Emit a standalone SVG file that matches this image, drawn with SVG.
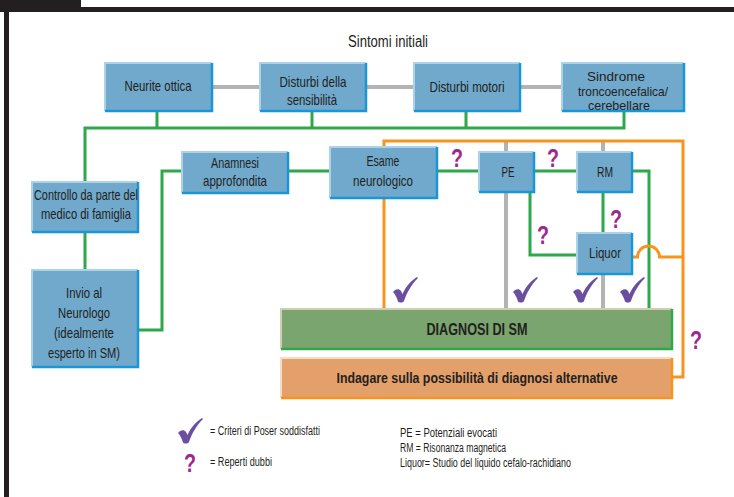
<svg xmlns="http://www.w3.org/2000/svg" width="734" height="497" viewBox="0 0 734 497">
<style>
text{font-family:"Liberation Sans Narrow","Liberation Sans",Arial,sans-serif;fill:#231f20;text-anchor:middle}
.t{font-size:15px}
.s{font-size:13px}
.lg{font-size:12px;text-anchor:start}
.b{font-weight:bold}
.q{font-family:"Liberation Sans",Arial,sans-serif;font-weight:bold;font-size:25px;fill:#9c2a8e}
.box{fill:#70a9cc}
.hl{fill:none;stroke:#aad2e8;stroke-width:2}
.sh{fill:none;stroke:#1996d5;stroke-width:2.5}
.g{fill:none;stroke:#2ea84a;stroke-width:3}
.gr{fill:none;stroke:#b3b3b5;stroke-width:4}
.o{fill:none;stroke:#f7941d;stroke-width:3}
.ck{fill:#6a4fa1}
</style>
<defs>
<path id="check" d="M0,15 C2,12 6,11 8,14 L9.5,17 C13,9 18,4 24,0 L25,1 C19,7 14,15 11,24 C10,26 6,26 5,24.5 C4,21 2,17 0,15 Z"/>
</defs>
<!-- frame -->
<g id="frame" fill="#231f20">
<rect x="0" y="0" width="81" height="12"/>
<rect x="0" y="7" width="734" height="5"/>
<rect x="4" y="7" width="5" height="490"/>
</g>
<text x="388" y="47" style="font-size:16px" textLength="80" lengthAdjust="spacingAndGlyphs">Sintomi initiali</text>

<!-- connectors -->
<g id="connectors">
<path class="gr" d="M212,87 H260 M366,87 H414 M520,87 H562"/>
<path class="gr" d="M506,141 V152 M506,192 V309 M603,141 V152 M603,274 V309"/>
<path class="g" d="M157,111 V128 M312,111 V128 M466,111 V128 M624,111 V128 M83.5,128 H625.5 M85,128 V182 M85,232 V270"/>
<path class="g" d="M138,330 H162 V171 H182 M288,171 H330 M437,171 H479 M534,171 H577 M530,192 V255 H577 M603,192 V233 M632,171 H649 V309"/>
<path class="o" d="M384,309 V141 H683 V377 H672"/>
<path class="o" d="M632,257 H637.5 A11,11 0 0 1 659.5,257 H683"/>
</g>

<!-- top row -->
<g id="n-neurite">
<rect class="box" x="105" y="63" width="107" height="48"/>
<path class="hl" d="M105,111 V63 H212"/><path class="sh" d="M105,111 H212 V63"/>
<text class="t" x="158" y="91" textLength="67" lengthAdjust="spacingAndGlyphs">Neurite ottica</text>
</g>
<g id="n-sensibilita">
<rect class="box" x="260" y="63" width="106" height="48"/>
<path class="hl" d="M260,111 V63 H366"/><path class="sh" d="M260,111 H366 V63"/>
<text class="t" x="313" y="87" textLength="67" lengthAdjust="spacingAndGlyphs">Disturbi della</text>
<text class="t" x="312" y="105" textLength="50" lengthAdjust="spacingAndGlyphs">sensibilità</text>
</g>
<g id="n-motori">
<rect class="box" x="414" y="63" width="106" height="48"/>
<path class="hl" d="M414,111 V63 H520"/><path class="sh" d="M414,111 H520 V63"/>
<text class="t" x="467" y="92" textLength="75" lengthAdjust="spacingAndGlyphs">Disturbi motori</text>
</g>
<g id="n-sindrome">
<rect class="box" x="562" y="63" width="122" height="48"/>
<path class="hl" d="M562,111 V63 H684"/><path class="sh" d="M562,111 H684 V63"/>
<text class="s" x="616" y="80.5" textLength="58" lengthAdjust="spacingAndGlyphs">Sindrome</text>
<text class="s" x="623" y="95.5" textLength="90" lengthAdjust="spacingAndGlyphs">troncoencefalica/</text>
<text class="s" x="619" y="109.5" textLength="62" lengthAdjust="spacingAndGlyphs">cerebellare</text>
</g>

<!-- left column -->
<g id="n-controllo">
<rect class="box" x="32" y="182" width="106" height="50"/>
<path class="hl" d="M32,232 V182 H138"/><path class="sh" d="M32,232 H138 V182"/>
<text class="t" x="86" y="200" textLength="104" lengthAdjust="spacingAndGlyphs">Controllo da parte del</text>
<text class="t" x="86" y="219" textLength="90" lengthAdjust="spacingAndGlyphs">medico di famiglia</text>
</g>
<g id="n-invio">
<rect class="box" x="32" y="270" width="106" height="97"/>
<path class="hl" d="M32,367 V270 H138"/><path class="sh" d="M32,367 H138 V270"/>
<text class="t" x="84" y="298" textLength="36" lengthAdjust="spacingAndGlyphs">Invio al</text>
<text class="t" x="84" y="318" textLength="52" lengthAdjust="spacingAndGlyphs">Neurologo</text>
<text class="t" x="84" y="338" textLength="60" lengthAdjust="spacingAndGlyphs">(idealmente</text>
<text class="t" x="84" y="358" textLength="72" lengthAdjust="spacingAndGlyphs">esperto in SM)</text>
</g>

<!-- middle row -->
<g id="n-anamnesi">
<rect class="box" x="182" y="152" width="106" height="41"/>
<path class="hl" d="M182,193 V152 H288"/><path class="sh" d="M182,193 H288 V152"/>
<text class="t" x="235" y="168" textLength="48" lengthAdjust="spacingAndGlyphs">Anamnesi</text>
<text class="t" x="235" y="186" textLength="64" lengthAdjust="spacingAndGlyphs">approfondita</text>
</g>
<g id="n-esame">
<rect class="box" x="330" y="147" width="107" height="51"/>
<path class="hl" d="M330,198 V147 H437"/><path class="sh" d="M330,198 H437 V147"/>
<text class="t" x="383" y="166" textLength="33" lengthAdjust="spacingAndGlyphs">Esame</text>
<text class="t" x="383" y="186" textLength="60" lengthAdjust="spacingAndGlyphs">neurologico</text>
</g>
<g id="n-pe">
<rect class="box" x="479" y="152" width="55" height="40"/>
<path class="hl" d="M479,192 V152 H534"/><path class="sh" d="M479,192 H534 V152"/>
<text class="t" x="508" y="177" textLength="13" lengthAdjust="spacingAndGlyphs">PE</text>
</g>
<g id="n-rm">
<rect class="box" x="577" y="152" width="55" height="40"/>
<path class="hl" d="M577,192 V152 H632"/><path class="sh" d="M577,192 H632 V152"/>
<text class="t" x="605" y="177" textLength="16" lengthAdjust="spacingAndGlyphs">RM</text>
</g>
<g id="n-liquor">
<rect class="box" x="577" y="233" width="55" height="41"/>
<path class="hl" d="M577,274 V233 H632"/><path class="sh" d="M577,274 H632 V233"/>
<text class="t" x="605" y="258" textLength="32" lengthAdjust="spacingAndGlyphs">Liquor</text>
</g>

<!-- outcome boxes -->
<g id="n-diagnosi">
<rect x="281" y="309" width="391" height="40" fill="#7aa56f"/>
<path d="M281,349 V309 H672" fill="none" stroke="#cfcdb4" stroke-width="2"/>
<path d="M281,349 H672 V309" fill="none" stroke="#2ea84a" stroke-width="2.5"/>
<text class="b" x="477" y="335" style="font-size:16px" textLength="101" lengthAdjust="spacingAndGlyphs">DIAGNOSI DI SM</text>
</g>
<g id="n-indagare">
<rect x="281" y="358" width="391" height="40" fill="#e3a06b"/>
<path d="M281,398 V358 H672" fill="none" stroke="#f5dcc4" stroke-width="2"/>
<path d="M281,398 H672 V358" fill="none" stroke="#f7941d" stroke-width="2.5"/>
<text class="b" x="477" y="383" style="font-size:15px" textLength="281" lengthAdjust="spacingAndGlyphs">Indagare sulla possibilità di diagnosi alternative</text>
</g>

<!-- marks -->
<g id="marks">
<use href="#check" class="ck" x="393" y="277"/>
<use href="#check" class="ck" x="513" y="277"/>
<use href="#check" class="ck" x="573" y="277"/>
<use href="#check" class="ck" x="620" y="277"/>
<text class="q" x="457" y="167" textLength="12" lengthAdjust="spacingAndGlyphs">?</text>
<text class="q" x="553" y="167" textLength="12" lengthAdjust="spacingAndGlyphs">?</text>
<text class="q" x="543" y="244" textLength="12" lengthAdjust="spacingAndGlyphs">?</text>
<text class="q" x="616" y="228" textLength="12" lengthAdjust="spacingAndGlyphs">?</text>
<text class="q" x="696" y="349" textLength="12" lengthAdjust="spacingAndGlyphs">?</text>
</g>

<!-- legend -->
<g id="legend">
<use href="#check" class="ck" x="178" y="418"/>
<text class="q" x="190" y="472" textLength="12" lengthAdjust="spacingAndGlyphs">?</text>
<text class="lg" x="210" y="435" textLength="110" lengthAdjust="spacingAndGlyphs">= Criteri di Poser soddisfatti</text>
<text class="lg" x="210" y="466" textLength="62" lengthAdjust="spacingAndGlyphs">= Reperti dubbi</text>
<text class="lg" x="400" y="437" textLength="97" lengthAdjust="spacingAndGlyphs">PE = Potenziali evocati</text>
<text class="lg" x="400" y="452" textLength="106" lengthAdjust="spacingAndGlyphs">RM = Risonanza magnetica</text>
<text class="lg" x="400" y="467" textLength="171" lengthAdjust="spacingAndGlyphs">Liquor= Studio del liquido cefalo-rachidiano</text>
</g>
</svg>
